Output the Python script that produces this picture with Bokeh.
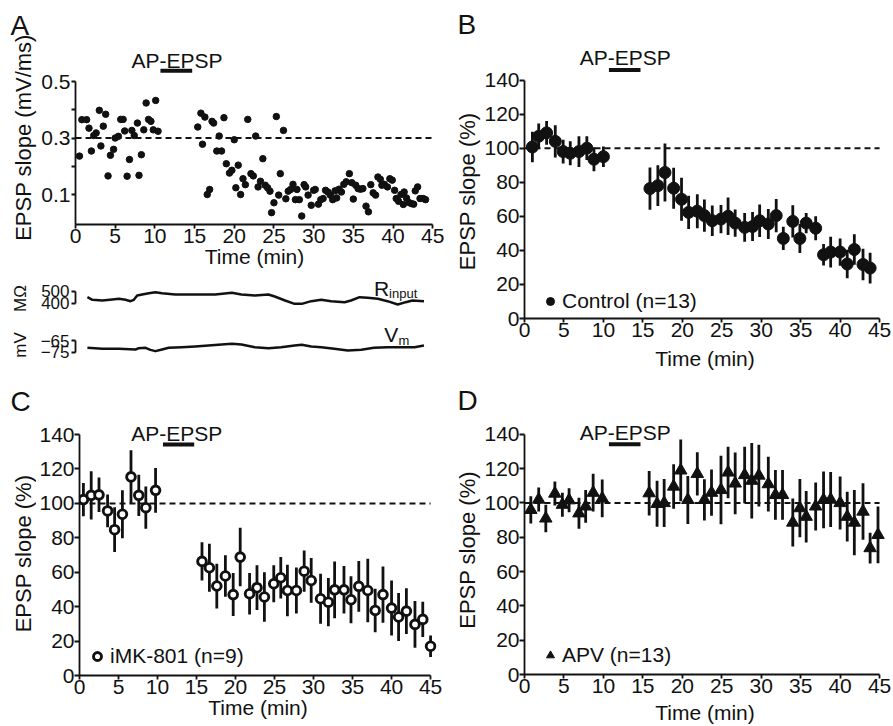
import math
from bokeh.plotting import figure
from bokeh.models import Range1d, FixedTicker, BoxAnnotation, Legend, LegendItem, LinearAxis
from bokeh.layouts import row, column
from bokeh.embed import file_html
from bokeh.resources import INLINE
from bokeh.core.properties import value

FONT = "Liberation Sans"
INK = "#111111"

# ---------------- shared ----------------
time_ticks = [0, 5, 10, 15, 20, 25, 30, 35, 40, 45]
time_span = [0, 45]
pairing_period = [10.7, 14.7]
pairing_label = "AP-EPSP"
time_title = "Time (min)"

# ---------------- panel A : single cell ----------------
a_time_pre = [0.5, 0.8, 1.4, 1.7, 2.0, 2.3, 2.6, 3.0, 3.2, 3.5,
              3.8, 4.1, 4.4, 4.8, 5.0, 5.4, 5.7, 6.0, 6.2, 6.5,
              6.8, 7.1, 7.4, 7.8, 8.0, 8.3, 8.6, 8.9, 9.2, 9.5,
              9.8, 10.1, 10.4]
a_slope_pre = [0.236, 0.365, 0.365, 0.335, 0.254, 0.309, 0.318, 0.398, 0.272, 0.342,
               0.384, 0.166, 0.239, 0.260, 0.300, 0.306, 0.366, 0.366, 0.325, 0.165,
               0.224, 0.327, 0.309, 0.353, 0.168, 0.241, 0.329, 0.424, 0.366, 0.359,
               0.329, 0.433, 0.324]
a_time_post = [15.4, 15.8, 16.0, 16.3, 16.6, 16.9, 17.2, 17.4, 17.8, 18.1,
               18.4, 18.7, 19.0, 19.4, 19.7, 20.0, 20.2, 20.5, 20.8, 21.1,
               21.4, 21.7, 22.1, 22.4, 22.7, 23.0, 23.3, 23.6, 23.9, 24.2,
               24.5, 24.7, 25.0, 25.3, 25.6, 25.8, 26.2, 26.5, 26.8, 27.1,
               27.4, 27.7, 27.9, 28.2, 28.5, 28.8, 29.0, 29.3, 29.7, 30.0,
               30.2, 30.6, 30.9, 31.2, 31.5, 31.8, 32.1, 32.4, 32.7, 32.9,
               33.2, 33.5, 33.8, 34.1, 34.5, 34.8, 35.0, 35.3, 35.6, 35.9,
               36.2, 36.6, 36.9, 37.2, 37.5, 37.8, 38.1, 38.4, 38.6, 38.9,
               39.3, 39.6, 39.9, 40.2, 40.4, 40.7, 41.0, 41.3, 41.4, 41.7,
               42.0, 42.3, 42.6, 42.8, 43.1, 43.4, 43.8, 44.1]
a_slope_post = [0.339, 0.388, 0.278, 0.374, 0.100, 0.118, 0.359, 0.353, 0.254, 0.307,
                0.254, 0.372, 0.209, 0.176, 0.186, 0.294, 0.124, 0.204, 0.100, 0.156,
                0.135, 0.366, 0.174, 0.166, 0.307, 0.127, 0.147, 0.227, 0.133, 0.124,
                0.112, 0.036, 0.071, 0.376, 0.098, 0.174, 0.327, 0.085, 0.112, 0.118,
                0.136, 0.082, 0.118, 0.082, 0.024, 0.135, 0.127, 0.098, 0.062, 0.115,
                0.118, 0.066, 0.082, 0.086, 0.115, 0.109, 0.098, 0.082, 0.113, 0.088,
                0.119, 0.109, 0.136, 0.145, 0.174, 0.142, 0.084, 0.133, 0.121, 0.119,
                0.121, 0.059, 0.039, 0.135, 0.106, 0.098, 0.162, 0.154, 0.133, 0.136,
                0.127, 0.156, 0.151, 0.115, 0.086, 0.076, 0.100, 0.065, 0.109, 0.088,
                0.072, 0.068, 0.066, 0.113, 0.127, 0.086, 0.086, 0.082]
a_baseline = 0.3
a_ticks = [0.1, 0.3, 0.5]
a_minor_ticks = [0.2, 0.4]
a_ytitle = "EPSP slope (mV/ms)"

# input resistance and membrane potential traces
r_time = [1.5, 2.13, 3.38, 4.64, 5.47, 6.3, 6.93, 7.35, 7.77, 8.4,
          9.23, 10.07, 10.9, 12.58, 15.08, 17.6, 19.7, 20.9, 22.6, 24.3,
          25.1, 26.4, 27.6, 28.5, 29.7, 30.96, 32.2, 33.9, 34.7, 35.8,
          36.8, 38.1, 39.3, 40.6, 41.6, 42.45, 43.9]
r_input = [452.8, 430.6, 425.0, 433.3, 438.9, 430.6, 419.4, 430.6, 466.7, 475.0,
           486.1, 494.4, 486.1, 475.0, 475.0, 475.0, 488.9, 475.0, 466.7, 475.0,
           458.3, 425.0, 397.2, 397.2, 419.4, 430.6, 419.4, 411.1, 425.0, 452.8,
           447.2, 438.9, 419.4, 391.7, 411.1, 425.0, 419.4]
r_ticks = [400, 500]
r_unit = "MΩ"
v_time = [1.5, 3.38, 5.47, 7.56, 7.98, 8.82, 9.44, 10.07, 10.9, 11.74,
          13.4, 15.08, 16.75, 18.4, 19.7, 20.9, 22.6, 24.3, 25.9, 27.6,
          28.5, 29.7, 30.96, 32.6, 34.3, 36.0, 37.6, 39.3, 41.0, 42.7, 43.9]
v_m = [-71.1, -71.9, -71.9, -72.5, -71.4, -71.1, -72.8, -73.9, -72.5, -71.1,
       -70.6, -70.0, -69.2, -68.3, -67.8, -68.3, -70.6, -71.4, -70.6, -69.2,
       -68.6, -70.0, -70.6, -71.9, -73.3, -72.8, -71.1, -70.6, -70.6, -70.6, -69.2]
v_ticks = [-75, -65]
v_unit = "mV"

# ---------------- panels B, C, D : group means ----------------
pct_ticks = [0, 20, 40, 60, 80, 100, 120, 140]
baseline_pct = 100
pct_title = "EPSP slope (%)"

b_label = "Control (n=13)"
b_time = [1.0, 1.8, 2.8, 3.9, 4.9, 5.8, 6.9, 7.9, 8.8, 10.0,
          15.9, 16.9, 17.8, 18.9, 19.9, 20.8, 21.9, 22.8, 23.8, 24.9,
          25.8, 26.7, 27.9, 28.9, 29.8, 30.9, 31.9, 32.8, 34.0, 34.9,
          35.7, 36.9, 37.9, 38.8, 40.0, 40.9, 41.8, 42.9, 43.8]
b_mean = [100.7, 107, 109, 104, 98, 97, 98, 100, 93.5, 95,
          76.3, 78, 85.7, 76.5, 70, 62.3, 63, 60.4, 57.4, 58.4,
          60, 56, 53.5, 54, 57.4, 55.5, 60.4, 47, 57, 47,
          56, 53, 37.4, 39, 39, 32, 40.5, 31.7, 29.6]
b_sem = [9, 7.5, 7, 9.5, 7, 7, 9, 7, 7, 6,
         12.4, 12, 17, 12, 12.6, 9.7, 10, 9.5, 9, 8.3,
         11, 8, 8.5, 8.5, 9.5, 8.8, 9.7, 6.8, 9.5, 8.5,
         6, 7, 6.3, 9, 8, 8.3, 9, 9.2, 9]

c_label = "iMK-801 (n=9)"
c_time = [0.5, 1.5, 2.5, 3.6, 4.5, 5.5, 6.6, 7.6, 8.5, 9.75,
          15.7, 16.65, 17.6, 18.7, 19.7, 20.6, 21.8, 22.75, 23.7, 24.9,
          25.8, 26.65, 27.8, 28.8, 29.7, 30.9, 31.9, 32.7, 33.9, 34.8,
          35.8, 36.95, 37.9, 38.9, 40.0, 40.9, 41.9, 43.0, 44.0, 45.0]
c_mean = [102.2, 104.7, 105, 95.6, 84.7, 93.7, 115.4, 104.7, 97.5, 107.6,
          66.3, 62.6, 52, 57.8, 47, 68.8, 47.5, 51, 45.6, 53.3,
          56.8, 49.4, 49.4, 60.6, 55.2, 44.6, 42.6, 49.8, 49.8, 44,
          51.8, 49.4, 37.8, 47, 39.2, 34, 37.4, 29.7, 32.6, 17]
c_sem = [9.7, 14, 10, 9.5, 13, 14, 15.5, 12, 12.3, 13,
         11.1, 14, 13, 12, 12.5, 17, 12, 13, 14.4, 10.7,
         12, 15, 13.4, 12, 13, 14.5, 14, 16.5, 13.8, 13.6,
         14.8, 18.4, 12.6, 16.3, 16, 14, 13.3, 13.6, 10.2, 6.3]

d_label = "APV (n=13)"
d_time = [0.8, 1.8, 2.7, 3.85, 4.8, 5.65, 6.9, 7.75, 8.7, 9.85,
          15.8, 16.8, 17.7, 18.9, 19.8, 20.7, 21.9, 22.8, 23.7, 24.9,
          25.8, 26.7, 27.9, 28.8, 29.7, 30.9, 31.8, 32.7, 34.0, 34.9,
          35.7, 36.9, 37.9, 38.8, 40.0, 40.9, 41.8, 42.9, 43.8, 44.8]
d_mean = [96, 102, 91, 105.5, 99, 101.6, 94, 98, 106, 102.7,
          105.7, 99.5, 100, 109.6, 119, 101.8, 117, 101.8, 106, 107.6,
          117.8, 111.4, 116.3, 113, 116, 111, 104.7, 104.7, 88.6, 97,
          92, 98, 101.8, 102, 100, 92, 88.6, 95, 73.7, 81.4]
d_sem = [8, 7, 8, 7, 7, 7, 9, 9.5, 11, 11,
         13, 13.4, 14, 13, 18, 14, 12.6, 12, 13.5, 20,
         15, 18, 16.5, 22, 18, 16, 14.5, 14.5, 14, 17,
         15, 14, 16.5, 16, 15.5, 14.5, 19, 16.5, 9, 16.5]


# ---------------- helpers ----------------
def make_fig(w, h, left, right, top, bottom, xr, yr, axes=True):
    kw = {}
    if not axes:
        kw = dict(x_axis_type=None, y_axis_type=None)
    p = figure(width=w, height=h, x_range=Range1d(*xr), y_range=Range1d(*yr),
               output_backend="svg", toolbar_location=None,
               min_border_left=left, min_border_right=right,
               min_border_top=top, min_border_bottom=bottom, **kw)
    p.outline_line_color = None
    p.grid.visible = False
    p.background_fill_color = "white"
    p.border_fill_color = "white"
    return p


def style_axis(ax, size="21px", tick_out=4, standoff=0):
    ax.axis_line_color = INK
    ax.axis_line_width = 1.8
    ax.major_tick_line_color = INK
    ax.major_tick_line_width = 1.8
    ax.major_tick_out = tick_out
    ax.major_tick_in = 0
    ax.minor_tick_line_color = None
    ax.major_label_text_font = FONT
    ax.major_label_text_font_size = size
    ax.major_label_text_color = INK
    ax.major_label_standoff = standoff


def gtext(p, x, y, s, size="21px", angle=0.0, align="left", baseline="middle"):
    p.text(x=[x], y=[y], text=[s], text_font=value(FONT), text_font_size=value(size),
           text_color=INK, angle=angle, text_align=align, text_baseline=baseline)


def vtext(p, x, y, s, size):
    gtext(p, x, y, s, size=size, angle=math.pi / 2, align="center", baseline="middle")


def strip(w, h, top, bottom, letter, letter_xy, title, title_xy):
    """Narrow text column left of a panel (same frame rows as the panel):
    the panel letter and the rotated y-axis title. Positions are pixels
    measured up from the bottom of the panel frame."""
    fh = h - top - bottom
    s = make_fig(w, h, 0, 0, top, bottom, (0, w), (0, fh), axes=False)
    gtext(s, letter_xy[0], letter_xy[1], letter, size="28px")
    vtext(s, title_xy[0], title_xy[1], title, "22px")
    return s


def main_axes(p, yticks, ybounds, xlabel_standoff):
    p.xaxis.ticker = FixedTicker(ticks=time_ticks)
    p.xaxis.bounds = (time_span[0], time_span[1])
    p.yaxis.ticker = FixedTicker(ticks=yticks)
    p.yaxis.bounds = ybounds
    style_axis(p.xaxis[0], tick_out=4, standoff=0)
    style_axis(p.yaxis[0], tick_out=5, standoff=0)
    ax = p.xaxis[0]
    ax.axis_label = time_title
    ax.axis_label_text_font = FONT
    ax.axis_label_text_font_size = "21px"
    ax.axis_label_text_font_style = "normal"
    ax.axis_label_text_color = INK
    ax.axis_label_standoff = xlabel_standoff


def pairing(p, text_x, text_y, bar_bottom, bar_top):
    gtext(p, text_x, text_y, pairing_label, align="center")
    p.add_layout(BoxAnnotation(left=pairing_period[0], right=pairing_period[1],
                               bottom=bar_bottom, top=bar_top,
                               fill_color=INK, fill_alpha=1.0, line_color=None))


def group_panel(p, t, m, s, kind, legend_text, legend_loc, pair_xy, bar_y,
                standoff, xlabel_standoff):
    main_axes(p, pct_ticks, (pct_ticks[0], pct_ticks[-1]), xlabel_standoff)
    p.line(time_span, [baseline_pct, baseline_pct], line_color=INK,
           line_width=2, line_dash="6 4")
    lo = [a - b for a, b in zip(m, s)]
    hi = [a + b for a, b in zip(m, s)]
    p.segment(x0=t, y0=lo, x1=t, y1=hi, line_color=INK, line_width=2.8)
    if kind == "open":
        r = p.scatter(t, m, marker="circle", size=8.7, fill_color="white",
                      line_color=INK, line_width=2.9)
    elif kind == "filled":
        r = p.scatter(t, m, marker="circle", size=12, fill_color=INK,
                      line_color=INK, line_width=1)
    else:
        r = p.scatter(t, m, marker="triangle", size=12.5, fill_color=INK,
                      line_color=INK, line_width=1)
    leg = Legend(items=[LegendItem(label=legend_text, renderers=[r])],
                 location=legend_loc, padding=0, margin=0, spacing=0,
                 glyph_width=20, glyph_height=24, label_height=24,
                 label_standoff=standoff, border_line_color=None,
                 background_fill_alpha=0.0,
                 label_text_font=FONT, label_text_font_size="21px",
                 label_text_color=INK)
    p.add_layout(leg)
    pairing(p, pair_xy[0], pair_xy[1], bar_y[0], bar_y[1])


def trace_axis(p, ticks):
    ax = LinearAxis(bounds=(ticks[0], ticks[1]), ticker=FixedTicker(ticks=ticks))
    style_axis(ax, size="17px", tick_out=4, standoff=2)
    p.add_layout(ax, "left")


# ---------------- panel A column (rows 0..363) ----------------
# left text column spanning panel A and the two traces (pixels up from row 363)
sA = make_fig(37, 363, 0, 0, 0, 0, (0, 37), (0, 363), axes=False)
gtext(sA, 10, 338, "A", size="28px")
vtext(sA, 23, 226, a_ytitle, "22px")
vtext(sA, 19.5, 65, r_unit, "17px")
vtext(sA, 20, 18.5, v_unit, "17px")

pA = make_fig(408, 278, 36, 12, 10, 54, (0, 45.1), (-0.006, 0.7513))
main_axes(pA, a_ticks, (-0.006, a_ticks[-1]), -1)
pA.yaxis.ticker = FixedTicker(ticks=a_ticks, minor_ticks=a_minor_ticks)
style_axis(pA.yaxis[0], tick_out=4, standoff=1)
pA.yaxis.minor_tick_line_color = INK
pA.yaxis.minor_tick_line_width = 1.8
pA.yaxis.minor_tick_out = 4
pA.yaxis.minor_tick_in = 0
pA.line(time_span, [a_baseline, a_baseline], line_color=INK, line_width=2, line_dash="6 4")
pA.scatter(a_time_pre + a_time_post, a_slope_pre + a_slope_post, marker="circle",
           size=6.5, color=INK)
pairing(pA, 12.8, 0.5726, 0.531, 0.545)

pR = make_fig(408, 42, 36, 12, 0, 2, (0, 45.1), (275, 608.3), axes=False)
trace_axis(pR, r_ticks)
pR.line(r_time, r_input, line_color=INK, line_width=2.5, line_join="round")
gtext(pR, 37.6, 529.1, "R", size="21px")
gtext(pR, 39.5, 483.3, "input", size="13px")

pV = make_fig(408, 43, 36, 12, 0, 3, (0, 45.1), (-81.7, -48.3), axes=False)
trace_axis(pV, v_ticks)
pV.line(v_time, v_m, line_color=INK, line_width=2.5, line_join="round")
gtext(pV, 38.9, -60.4, "V", size="21px")
gtext(pV, 40.7, -65.4, "m", size="13px")

# ---------------- panel B (frame rows 10..320) ----------------
sB = strip(36, 372, 10, 52, "B", (12, 296), pct_title, (22, 128))
pB = make_fig(412, 372, 40, 8, 10, 52, (0, 45.75), (0, 180.83))
group_panel(pB, b_time, b_mean, b_sem, "filled", b_label, (16, 5),
            (12.76, 153.3), (144.7, 147.0), 2, 7)

# ---------------- panel C (frame rows 385..675) ----------------
sC = strip(36, 363, 22, 51, "C", (10, 274.5), pct_title, (22.5, 122))
pC = make_fig(409, 363, 40, 9, 22, 51, (0, 45.76), (0, 168.5))
group_panel(pC, c_time, c_mean, c_sem, "open", c_label, (8, 7),
            (12.46, 140.9), (133.1, 135.4), 3, -1)

# ---------------- panel D (frame rows 385..675) ----------------
sD = strip(36, 354, 13, 51, "D", (12, 274.5), pct_title, (22, 125))
pD = make_fig(412, 354, 40, 8, 13, 51, (0, 45.75), (0, 168.5))
group_panel(pD, d_time, d_mean, d_sem, "triangle", d_label, (16, 7),
            (12.76, 140.9), (133.1, 135.4), 2, 5)

left = column(row(sA, column(pA, pR, pV)), row(sC, pC))
right = column(row(sB, pB), row(sD, pD))
layout = row(left, right)

open("out.html", "w").write(file_html(layout, INLINE))
